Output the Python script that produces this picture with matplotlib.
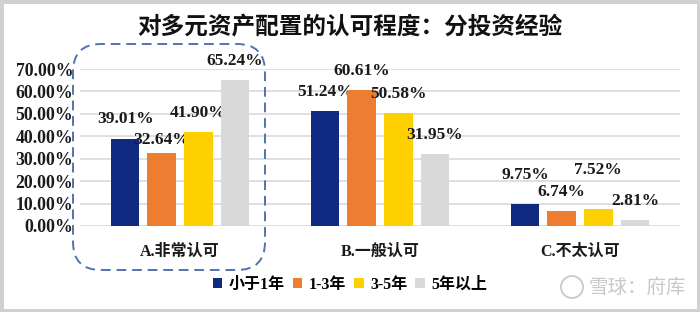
import numpy as np
import matplotlib
matplotlib.use("Agg")
import matplotlib.pyplot as plt
from matplotlib.patches import Patch, FancyBboxPatch, Rectangle, Circle

plt.rcParams['font.family'] = ['Liberation Serif', 'Noto Sans CJK SC']
plt.rcParams['font.weight'] = 'bold'

# data
categories = ['A.非常认可', 'B.一般认可', 'C.不太认可']
series_names = ['小于1年', '1-3年', '3-5年', '5年以上']
values = [
    [39.01, 51.24, 9.75],   # 小于1年
    [32.64, 60.61, 6.74],   # 1-3年
    [41.90, 50.58, 7.52],   # 3-5年
    [65.24, 31.95, 2.81],   # 5年以上
]
yticks = [0, 10, 20, 30, 40, 50, 60, 70]

colors = ['#0F2A80', '#ED7D31', '#FFD000', '#D9D9D9']
# label offsets (points) where the original labels were nudged
label_offset = {(0, 1): 9.5, (2, 0): 21, (2, 2): 28}

fig = plt.figure(figsize=(7, 3.12), dpi=100)
ax = fig.add_axes([80 / 700, 86 / 312, 600 / 700, 157 / 312])

x = np.arange(len(categories))
width = 0.143
step = 0.183
for i, (name, vals) in enumerate(zip(series_names, values)):
    pos = x + (i - 1.5) * step
    ax.bar(pos, vals, width=width, color=colors[i], label=name, zorder=3)
    for j, v in enumerate(vals):
        off = label_offset.get((j, i), 13.7)
        ax.annotate(f'{v:.2f}%', (pos[j], v), xytext=(0, off),
                    textcoords='offset points', ha='center', va='center',
                    fontsize=12.5, fontweight='bold', color='#1a1a1a',
                    annotation_clip=False)

ax.set_xlim(-0.5, 2.5)
ax.set_ylim(0, 70)
ax.set_yticks(yticks)
ax.set_yticklabels([f'{t:.2f}%' for t in yticks], fontsize=12.8, fontweight='bold')
ax.set_xticks(x)
ax.set_xticklabels(categories, fontsize=11.5, fontweight='bold',
                   family=['Liberation Serif', 'Noto Sans CJK SC'])
ax.tick_params(axis='both', length=0, colors='#1a1a1a')
ax.tick_params(axis='y', pad=5)
ax.tick_params(axis='x', pad=13)
ax.grid(axis='y', color='#D9D9D9', linewidth=1.2, zorder=0)
for s in ax.spines.values():
    s.set_visible(False)

fig.text(0.5, 1 - 27 / 312, '对多元资产配置的认可程度：分投资经验', ha='center', va='center',
         fontsize=17, fontweight='bold', family=['Noto Sans CJK SC'], color='#111111')

handles = [Patch(facecolor=c, edgecolor='none') for c in colors]
fig.legend(handles, series_names, loc='center', bbox_to_anchor=(350 / 700, 1 - 285 / 312),
           ncol=4, frameon=False, handlelength=0.6, handleheight=0.6,
           handletextpad=0.4, columnspacing=0.5, borderaxespad=0,
           prop={'family': ['Liberation Serif', 'Noto Sans CJK SC'], 'weight': 'bold', 'size': 11.5})

# dashed highlight box around group A
box = FancyBboxPatch((0.73, 0.42), 1.92, 2.26, boxstyle='round,pad=0,rounding_size=0.28',
                     transform=fig.dpi_scale_trans, fill=False, edgecolor='#4F74B3',
                     linestyle=(0, (5, 3)), linewidth=1.4, zorder=5)
fig.patches.append(box)

# watermark
fig.patches.append(Circle((5.72, 0.25), 0.11, transform=fig.dpi_scale_trans, fill=False,
                          edgecolor='#C8C8C8', linewidth=1.3))
fig.text(5.88 / 7, 0.25 / 3.12, '雪球：府库', ha='left', va='center', fontsize=14,
         family=['Noto Sans CJK SC'], fontweight='normal', color='#C8C8C8')

# light frame around image
fig.patches.append(Rectangle((0, 0), 1, 1, transform=fig.transFigure, fill=False,
                             edgecolor='#D0D0D0', linewidth=5))

fig.savefig('out.png', dpi=100)
